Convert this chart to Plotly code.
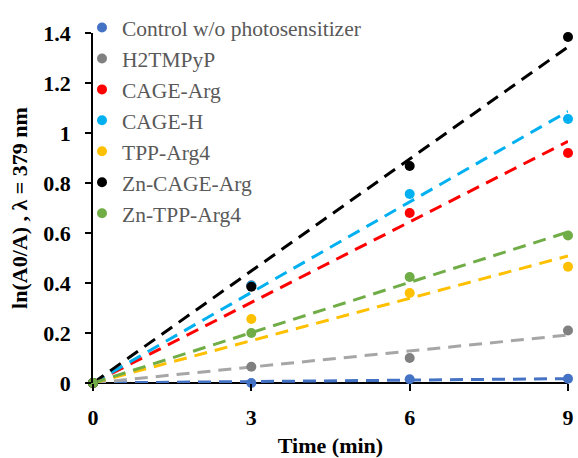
import plotly.graph_objects as go

times = [0, 3, 6, 9]
series_names = ["Control w/o photosensitizer", "H2TMPyP", "CAGE-Arg", "CAGE-H",
                "TPP-Arg4", "Zn-CAGE-Arg", "Zn-TPP-Arg4"]
control = [0, 0.0, 0.015, 0.017]
h2tmpyp = [0, 0.065, 0.10, 0.21]
cage_arg = [0, 0.39, 0.68, 0.92]
cage_h = [0, 0.39, 0.756, 1.056]
tpp_arg4 = [0, 0.256, 0.36, 0.465]
zn_cage_arg = [0, 0.385, 0.868, 1.384]
zn_tpp_arg4 = [0, 0.20, 0.424, 0.59]
values = [control, h2tmpyp, cage_arg, cage_h, tpp_arg4, zn_cage_arg, zn_tpp_arg4]

marker_colors = ["#4472C4", "#808080", "#FF0000", "#00B0F0", "#FFC000", "#000000", "#70AD47"]
line_colors = ["#4472C4", "#A6A6A6", "#FF0000", "#00B0F0", "#FFC000", "#000000", "#70AD47"]

y_ticks = [0, 0.2, 0.4, 0.6, 0.8, 1.0, 1.2, 1.4]
y_ticktext = ["0", "0.2", "0.4", "0.6", "0.8", "1", "1.2", "1.4"]
x_ticks = [0, 3, 6, 9]

FONT = "Liberation Serif"

fig = go.Figure()

# trendlines (linear fit through origin)
for name, ys, lc in zip(series_names, values, line_colors):
    sxy = sum(x * y for x, y in zip(times, ys))
    sxx = sum(x * x for x in times)
    k = sxy / sxx
    fig.add_trace(go.Scatter(
        x=[times[0], times[-1]], y=[k * times[0], k * times[-1]],
        mode="lines", line=dict(color=lc, width=3, dash="13px,8px"),
        showlegend=False, hoverinfo="skip", cliponaxis=False))

for i, (name, ys, mc) in enumerate(zip(series_names, values, marker_colors)):
    fig.add_trace(go.Scatter(
        x=times, y=ys, mode="markers", name=name,
        marker=dict(color=mc, size=10),
        cliponaxis=False))

fig.update_layout(
    width=578, height=458,
    margin=dict(l=93, r=10, t=33, b=75, autoexpand=False),
    plot_bgcolor="white", paper_bgcolor="white",
    font=dict(family=FONT, color="black"),
    showlegend=True,
    legend=dict(x=(82 - 93) / 475, y=1 + (33 - 7) / 350, xanchor="left", yanchor="top",
                bgcolor="rgba(0,0,0,0)", maxheight=420,
                font=dict(family=FONT, size=21.5, color="#595959"),
                tracegroupgap=0, itemwidth=30),
    xaxis=dict(range=[0, 9], tickvals=x_ticks, ticks="outside", ticklen=7,
               tickwidth=1.5, tickcolor="black", automargin=False,
               ticklabelstandoff=8,
               showline=False, showgrid=False, zeroline=False,
               tickfont=dict(family=FONT, size=22, color="black", weight="bold"),
               title=dict(text="<b>Time (min)</b>", font=dict(family=FONT, size=22),
                          standoff=15)),
    yaxis=dict(range=[0, 1.4], tickvals=y_ticks, ticktext=y_ticktext,
               ticks="outside", ticklen=6, tickwidth=1.5, tickcolor="black",
               automargin=False, ticklabelstandoff=10,
               showline=True, linecolor="black", linewidth=1.5,
               showgrid=False, zeroline=True, zerolinecolor="black", zerolinewidth=1.5,
               tickfont=dict(family=FONT, size=22, color="black", weight="bold"),
               title=dict(text="<b>ln(A0/A) , λ = 379 nm</b>",
                          font=dict(family=FONT, size=22), standoff=10)),
)

fig.write_html("out.html", config={"displayModeBar": False},
               post_script="document.body.style.margin='0';document.body.style.padding='0';")
